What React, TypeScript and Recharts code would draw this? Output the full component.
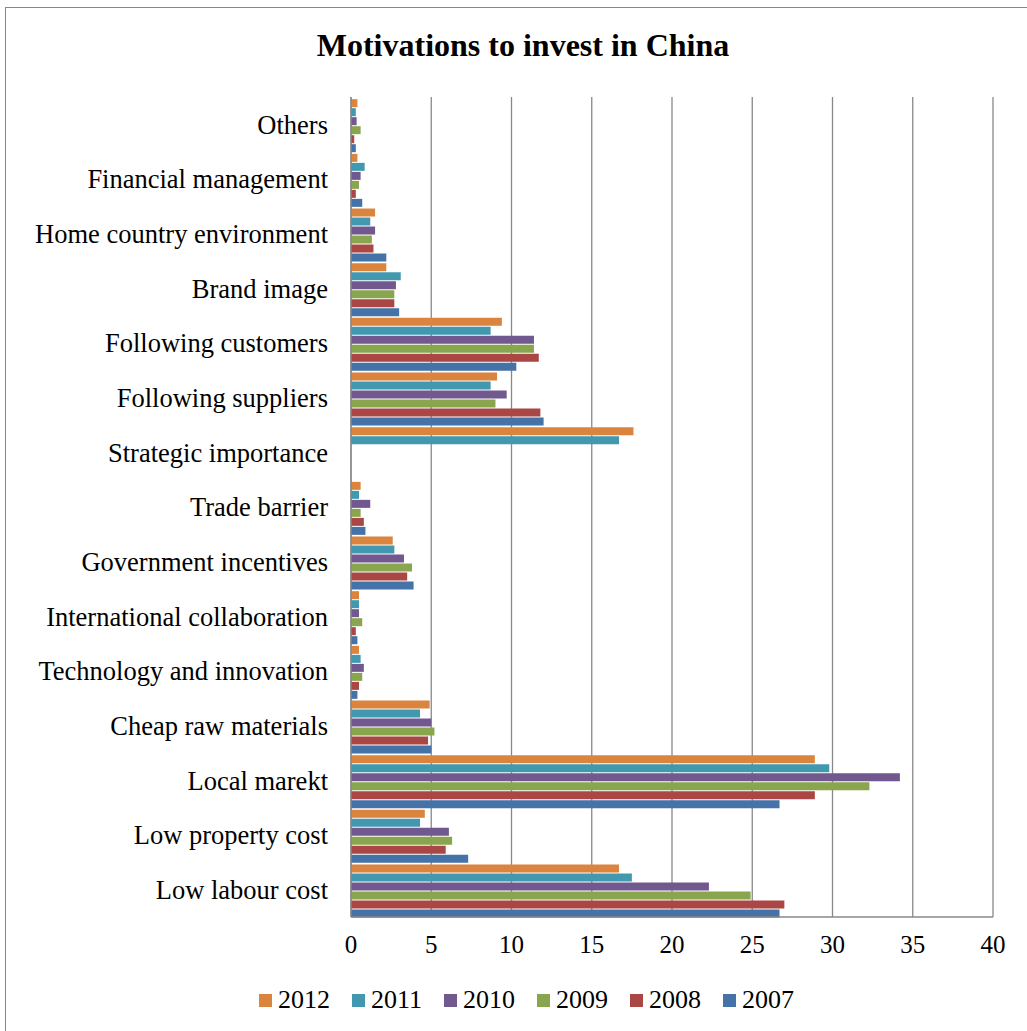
import React from "react";
import { BarChart, Bar, XAxis, YAxis, CartesianGrid, Legend } from "recharts";

const categories = [
  "Others",
  "Financial management",
  "Home country environment",
  "Brand image",
  "Following customers",
  "Following suppliers",
  "Strategic importance",
  "Trade barrier",
  "Government incentives",
  "International collaboration",
  "Technology and innovation",
  "Cheap raw materials",
  "Local marekt",
  "Low property cost",
  "Low labour cost",
];

const y2012 = [0.4, 0.4, 1.5, 2.2, 9.4, 9.1, 17.6, 0.6, 2.6, 0.5, 0.5, 4.9, 28.9, 4.6, 16.7];
const y2011 = [0.3, 0.85, 1.2, 3.1, 8.7, 8.7, 16.7, 0.5, 2.7, 0.5, 0.6, 4.3, 29.8, 4.3, 17.5];
const y2010 = [0.35, 0.6, 1.5, 2.8, 11.4, 9.7, 0, 1.2, 3.3, 0.5, 0.8, 5.0, 34.2, 6.1, 22.3];
const y2009 = [0.6, 0.5, 1.3, 2.7, 11.4, 9.0, 0, 0.6, 3.8, 0.7, 0.7, 5.2, 32.3, 6.3, 24.9];
const y2008 = [0.2, 0.3, 1.4, 2.7, 11.7, 11.8, 0, 0.8, 3.5, 0.3, 0.5, 4.8, 28.9, 5.9, 27.0];
const y2007 = [0.3, 0.7, 2.2, 3.0, 10.3, 12.0, 0, 0.9, 3.9, 0.4, 0.4, 5.0, 26.7, 7.3, 26.7];

const xTicks = [0, 5, 10, 15, 20, 25, 30, 35, 40];

const series = [
  { key: "2012", values: y2012, color: "#DB843D" },
  { key: "2011", values: y2011, color: "#4198AF" },
  { key: "2010", values: y2010, color: "#71588F" },
  { key: "2009", values: y2009, color: "#89A54E" },
  { key: "2008", values: y2008, color: "#AA4643" },
  { key: "2007", values: y2007, color: "#4572A7" },
];

const data = categories.map((name, i) => {
  const row: Record<string, string | number> = { name };
  series.forEach((s) => {
    row[s.key] = s.values[i];
  });
  return row;
});

const font = "'Liberation Serif', 'Times New Roman', serif";

// legend in the series order (2012 first), drawn like the Excel one
function YearLegend() {
  return (
    <div style={{ display: "flex", justifyContent: "center", alignItems: "center", fontFamily: font, fontSize: 26 }}>
      {series.map((s) => (
        <span key={s.key} style={{ display: "inline-flex", alignItems: "center", marginRight: 22 }}>
          <span style={{ display: "inline-block", width: 13, height: 13, background: s.color, marginRight: 6 }} />
          <span style={{ color: "#000" }}>{s.key}</span>
        </span>
      ))}
    </div>
  );
}

export default function App() {
  return (
    <div
      style={{
        position: "absolute",
        left: 0,
        top: 0,
        width: 1027,
        height: 1031,
        overflow: "hidden",
        background: "#fff",
        fontFamily: font,
      }}
    >
      <div
        style={{
          position: "absolute",
          left: 5,
          top: 7,
          width: 1100,
          height: 1100,
          borderLeft: "1px solid #888",
          borderTop: "1px solid #888",
        }}
      />
      <div
        style={{
          position: "absolute",
          left: 0,
          top: 27,
          width: 1046,
          textAlign: "center",
          fontSize: 32,
          fontWeight: "bold",
          color: "#000",
        }}
      >
        Motivations to invest in China
      </div>
      <div style={{ position: "absolute", left: 0, top: 0 }}>
        <BarChart
          width={1027}
          height={1031}
          data={data}
          layout="vertical"
          margin={{ top: 97, right: 34, bottom: 44, left: 0 }}
          barCategoryGap="4%"
          barGap={1}
        >
          <CartesianGrid horizontal={false} stroke="#888" strokeWidth={1.3} />
          <XAxis
            type="number"
            domain={[0, 40]}
            ticks={xTicks}
            interval={0}
            height={40}
            tickSize={0}
            tickMargin={18}
            axisLine={{ stroke: "#888", strokeWidth: 1.3 }}
            tick={{ fontSize: 25, fill: "#000", fontFamily: font }}
          />
          <YAxis
            type="category"
            dataKey="name"
            width={351}
            interval={0}
            tickSize={0}
            tickMargin={23}
            axisLine={{ stroke: "#888", strokeWidth: 1.3 }}
            tick={{ fontSize: 26.5, fill: "#000", fontFamily: font }}
          />
          <Legend
            verticalAlign="bottom"
            wrapperStyle={{ top: 985, left: 24, width: 1027 }}
            content={() => <YearLegend />}
          />
          {series.map((s) => (
            <Bar key={s.key} dataKey={s.key} name={s.key} fill={s.color} isAnimationActive={false} />
          ))}
        </BarChart>
      </div>
    </div>
  );
}
